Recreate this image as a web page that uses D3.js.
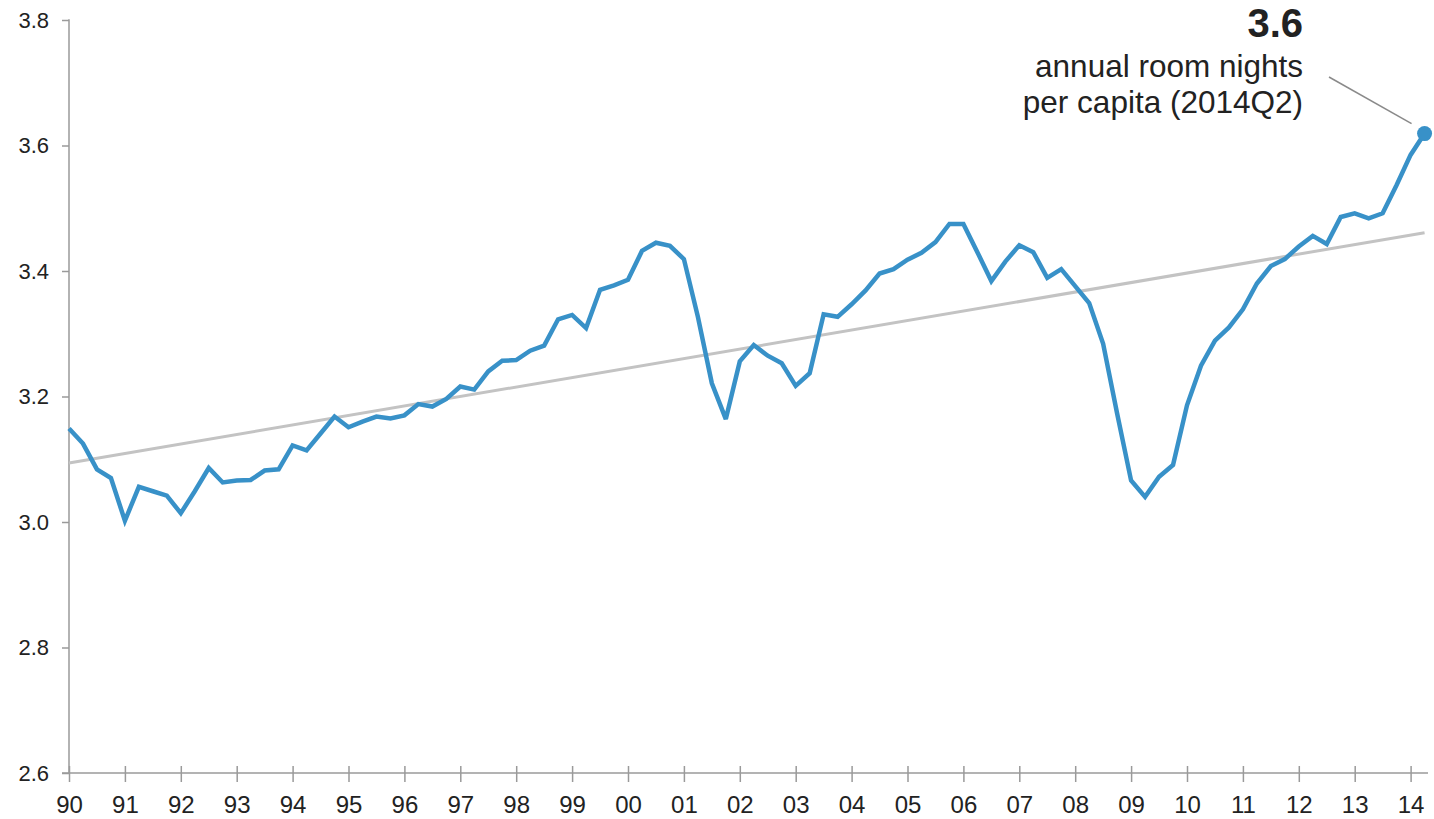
<!DOCTYPE html>
<html>
<head>
<meta charset="utf-8">
<script src="https://cdn.jsdelivr.net/npm/d3@7"></script>
<style>
  html, body { margin: 0; padding: 0; background: #fff; }
  svg { display: block; font-family: "Liberation Sans", Arial, Helvetica, sans-serif; }
</style>
</head>
<body>
<svg id="chart" width="1434" height="819"></svg>
<script>
// ---- data ----
const startYear = 1990;           // first quarter: 1990Q1
const quarterLabels = [];         // built from startYear: 1990Q1 .. 2014Q2
const roomNights = [
  3.149, 3.125, 3.084, 3.070, 3.002, 3.056, 3.049, 3.042, 3.014, 3.049,
  3.086, 3.063, 3.066, 3.067, 3.082, 3.084, 3.122, 3.114, 3.141, 3.168,
  3.151, 3.160, 3.168, 3.165, 3.170, 3.188, 3.184, 3.196, 3.216, 3.211,
  3.240, 3.257, 3.258, 3.273, 3.281, 3.323, 3.330, 3.309, 3.370, 3.377,
  3.386, 3.432, 3.445, 3.440, 3.419, 3.327, 3.221, 3.164, 3.256, 3.282,
  3.265, 3.253, 3.217, 3.237, 3.331, 3.327, 3.347, 3.369, 3.396, 3.403,
  3.418, 3.429, 3.446, 3.475, 3.475, 3.430, 3.384, 3.415, 3.441, 3.430,
  3.389, 3.403, 3.376, 3.349, 3.284, 3.173, 3.066, 3.040, 3.072, 3.091,
  3.186, 3.249, 3.289, 3.310, 3.339, 3.380, 3.408, 3.419, 3.439, 3.456,
  3.443, 3.486, 3.492, 3.484, 3.492, 3.537, 3.585, 3.619
];
const trendEnds = [3.094, 3.461];  // trend line value at first and last quarter
const xTickYears = d3.range(1990, 2015);
const xTickLabels = ["90","91","92","93","94","95","96","97","98","99","00","01","02","03","04","05","06","07","08","09","10","11","12","13","14"];
const yTicks = [2.6, 2.8, 3.0, 3.2, 3.4, 3.6, 3.8];
const calloutValue = "3.6";
const calloutLines = ["annual room nights", "per capita (2014Q2)"];

roomNights.forEach((v, i) => quarterLabels.push((startYear + Math.floor(i / 4)) + "Q" + (i % 4 + 1)));
const t = i => startYear + i / 4;

// ---- layout ----
const svg = d3.select("#chart");
const x = d3.scaleLinear().domain([1990, 2014]).range([69, 1410.6]);
const y = d3.scaleLinear().domain([2.6, 3.8]).range([773, 20]);
const axisColor = "#9a9a9a";
const blue = "#3891c8";
const font = "'Liberation Sans', Arial, sans-serif";

// y axis
const yAxis = svg.append("g").attr("transform", "translate(69,0)")
  .call(d3.axisLeft(y).tickValues(yTicks).tickFormat(d3.format(".1f")).tickSize(7).tickPadding(13));
yAxis.select(".domain").remove();
yAxis.selectAll(".tick line").attr("stroke", axisColor).attr("stroke-width", 1.5);
yAxis.selectAll(".tick text").attr("fill", "#222").style("font-size", "22px").style("font-family", font);
svg.append("line").attr("x1", 69).attr("x2", 69).attr("y1", 19.25).attr("y2", 773)
  .attr("stroke", axisColor).attr("stroke-width", 1.5);

// x axis
const xAxis = svg.append("g").attr("transform", "translate(0,773)")
  .call(d3.axisBottom(x).tickValues(xTickYears).tickFormat((d, i) => xTickLabels[i]).tickSize(9).tickPadding(14));
xAxis.select(".domain").remove();
xAxis.selectAll(".tick line").attr("y1", -7).attr("y2", 9).attr("stroke", axisColor).attr("stroke-width", 1.5);
xAxis.selectAll(".tick text").attr("fill", "#222").style("font-size", "24px").style("font-family", font);
svg.append("line").attr("x1", 62).attr("x2", 1428).attr("y1", 773).attr("y2", 773)
  .attr("stroke", axisColor).attr("stroke-width", 1.5);

// trend line
svg.append("line")
  .attr("x1", x(t(0))).attr("y1", y(trendEnds[0]))
  .attr("x2", x(t(roomNights.length - 1))).attr("y2", y(trendEnds[1]))
  .attr("stroke", "#c3c3c3").attr("stroke-width", 3);

// data line
const line = d3.line().x((d, i) => x(t(i))).y(d => y(d));
svg.append("path").datum(roomNights)
  .attr("d", line).attr("fill", "none").attr("stroke", blue)
  .attr("stroke-width", 4.5).attr("stroke-linejoin", "miter").attr("stroke-miterlimit", 3);

// end dot
const last = roomNights.length - 1;
const lx = x(t(last)), ly = y(roomNights[last]);
svg.append("circle").attr("cx", lx).attr("cy", ly).attr("r", 7.5).attr("fill", blue);

// callout
svg.append("line").attr("x1", 1329).attr("y1", 77).attr("x2", lx - 13).attr("y2", ly - 10)
  .attr("stroke", "#8a8a8a").attr("stroke-width", 1.5);
svg.append("text").attr("x", 1303).attr("y", 37).attr("text-anchor", "end")
  .attr("fill", "#222").style("font-size", "40px").style("font-weight", "bold").style("font-family", font)
  .text(calloutValue);
calloutLines.forEach((s, i) => {
  svg.append("text").attr("x", 1303).attr("y", 77 + i * 36).attr("text-anchor", "end")
    .attr("fill", "#222").style("font-size", "31.5px").style("font-family", font).text(s);
});
</script>
</body>
</html>
